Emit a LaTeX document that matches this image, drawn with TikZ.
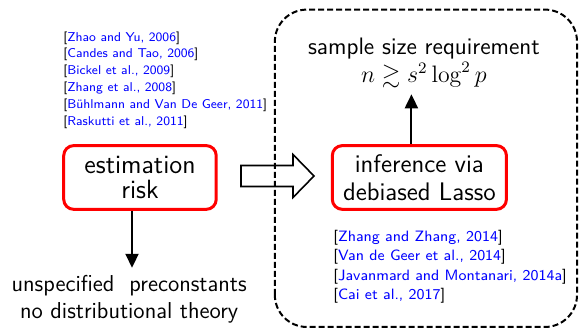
\documentclass[tikz,border=0pt]{standalone}
\usepackage{fontspec}
\usepackage{amssymb}
\usepackage{xcolor}
\usepackage{tikz}
\usetikzlibrary{positioning,arrows.meta}
\renewcommand{\familydefault}{\sfdefault}
\newcommand{\refitem}[1]{[{\color{blue}#1}]}

\begin{document}
\begin{tikzpicture}[
	redbox/.style={draw=red, line width=1.5pt, rounded corners=5pt, align=center, inner sep=0pt},
	cites/.style={align=left, inner sep=0pt, anchor=north west},
	arr/.style={-{Triangle[width=6.5pt,length=7pt]}, line width=1pt}]
	\useasboundingbox (0,0) rectangle (10.175,5.799);

	\draw[line width=1pt, dash pattern=on 3pt off 1.5pt, rounded corners=16pt] (4.83,0.053) rectangle (10.14,5.63);

	\node[redbox, minimum width=2.68cm, minimum height=1.12cm, font=\fontsize{13.2}{12.5}\selectfont] (est) at (2.46,2.68) {estimation\\risk};
	\node[redbox, minimum width=3.06cm, minimum height=1.12cm, font=\fontsize{12.7}{14}\selectfont] (infer) at (7.37,2.68) {inference via\\debiased Lasso};

	\node[align=center, inner sep=0pt, anchor=north, font=\fontsize{11.9}{14}\selectfont] (req) at (7.45,5.14) {sample size requirement\\$n \gtrsim s^2\log^2 p$};
	\node[align=center, inner sep=0pt, anchor=north, font=\fontsize{11.5}{13.5}\selectfont] (uns) at (2.27,0.97) {unspecified\ \ preconstants\\no distributional theory};

	\node[cites, font=\fontsize{6.4}{8.4}\selectfont] (estrefs) at (1.107,5.251) {\refitem{Zhao and Yu, 2006}\\\refitem{Candes and Tao, 2006}\\\refitem{Bickel et al., 2009}\\\refitem{Zhang et al., 2008}\\\refitem{B\"uhlmann and Van De Geer, 2011}\\\refitem{Raskutti et al., 2011}};
	\node[cites, font=\fontsize{7.5}{9.6}\selectfont] (infrefs) at (5.852,1.757) {\refitem{Zhang and Zhang, 2014}\\\refitem{Van de Geer et al., 2014}\\\refitem{Javanmard and Montanari, 2014a}\\\refitem{Cai et al., 2017}};

	\draw[arr, shorten >=3pt] ([xshift=-0.14cm]infer.north) -- ([xshift=-0.14cm]infer.north |- req.south);
	\draw[arr, shorten >=3.5pt] ([xshift=-0.14cm]est.south) -- ([xshift=-0.14cm]est.south |- uns.north);

	\coordinate (barr) at (4.235,2.706);
	\draw[thick] ([yshift=0.185cm]barr) -- ++(0.914,0) -- ++(0,0.193) -- ++(0.369,-0.378) -- ++(-0.369,-0.378) -- ++(0,0.193) -- ++(-0.914,0) -- cycle;
\end{tikzpicture}
\end{document}
